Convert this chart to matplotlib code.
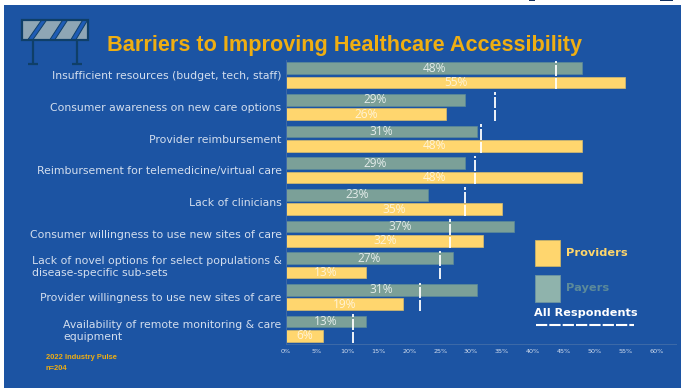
import matplotlib
matplotlib.use("Agg")
import matplotlib.pyplot as plt
from matplotlib.patches import Rectangle, Polygon

categories = [
    "Insufficient resources (budget, tech, staff)",
    "Consumer awareness on new care options",
    "Provider reimbursement",
    "Reimbursement for telemedicine/virtual care",
    "Lack of clinicians",
    "Consumer willingness to use new sites of care",
    "Lack of novel options for select populations &\ndisease-specific sub-sets",
    "Provider willingness to use new sites of care",
    "Availability of remote monitoring & care\nequipment",
]
payers = [48, 29, 31, 29, 23, 37, 27, 31, 13]
providers = [55, 26, 48, 48, 35, 32, 13, 19, 6]
all_respondents = [43.8, 33.9, 31.6, 30.6, 29.0, 26.6, 25.0, 21.7, 10.9]
x_ticks = list(range(0, 65, 5))

BLUE = "#1C54A3"
YELLOW = "#FFD66E"
GREEN = "#7BA098"
GOLD = "#EFAE12"
LIGHT = "#D3DEEE"
DARK = "#0F3F68"

W, H = 681, 388
fig = plt.figure(figsize=(W / 100, H / 100), dpi=100, facecolor="white")

# Page layer in pixel units: background, sign icon, title, legend
page = fig.add_axes([0, 0, 1, 1], zorder=0)
page.set_xlim(0, W)
page.set_ylim(H, 0)
page.axis("off")
page.add_patch(Rectangle((4, 5), W - 4, H - 5, fc=BLUE, ec="none"))
page.add_patch(Rectangle((529, 0), 6, 1.2, fc="#12305F", ec="none"))
page.add_patch(Rectangle((660, 0), 13, 1.2, fc="#12305F", ec="none"))

# Road barrier icon
page.add_patch(Rectangle((22, 19.5), 66, 20, fc="#8EA6B5", ec="none"))
for top, bottom in [(42, 28), (63, 50), (83, 71)]:
    page.add_patch(Polygon([(top, 19.5), (top + 5, 19.5), (bottom + 5, 39.5), (bottom, 39.5)],
                           fc="#1F5CB5", ec=DARK, lw=0.7))
page.add_patch(Rectangle((22, 19.5), 66, 20, fc="none", ec=DARK, lw=1.6))
for post in (33, 77):
    page.plot([post, post], [40, 63.5], color=DARK, lw=1.6, solid_capstyle="butt")
    page.plot([post - 5, post + 5], [63.5, 63.5], color=DARK, lw=1.6, solid_capstyle="butt")

page.text(107, 45, "Barriers to Improving Healthcare Accessibility", color=GOLD,
          family="Liberation Sans", weight="bold", fontsize=15.55, va="center", ha="left")

# Legend
page.add_patch(Rectangle((534.5, 239.5), 25, 26.5, fc=YELLOW, ec="#C9B36A", lw=0.6))
page.add_patch(Rectangle((534.5, 275), 25, 26.5, fc="#8FB3AC", ec="#6F96A0", lw=0.6))
page.text(566, 252.5, "Providers", color="#FFD66B", weight="bold", fontsize=8.2, va="center")
page.text(566, 288, "Payers", color="#5C8A9A", weight="bold", fontsize=8.2, va="center")
page.text(534, 313.5, "All Respondents", color="white", weight="bold", fontsize=8.1, va="center")
page.plot([536, 634], [325, 325], color="white", lw=1.5, linestyle=(0, (5.4, 1.0)))

page.text(46, 357.5, "2022 Industry Pulse", color=GOLD, family="Liberation Sans",
          weight="bold", fontsize=5.4, va="center")
page.text(46, 368, "n=204", color=GOLD, family="Liberation Sans",
          weight="bold", fontsize=5.4, va="center")

# Bar chart
ax = fig.add_axes([286 / W, 1 - 344 / H, (676 - 286) / W, (344 - 60) / H], zorder=1)
ax.patch.set_alpha(0)
ax.set_xlim(0, 390 / 6.17)
ax.set_ylim(8.48, -0.483)

rows = list(range(len(categories)))
offset, bar_h = 0.226, 0.37
ax.barh([r - offset for r in rows], payers, height=bar_h, color=GREEN,
        edgecolor="#5C8A98", linewidth=0.5)
ax.barh([r + offset for r in rows], providers, height=bar_h, color=YELLOW,
        edgecolor="#D8BD6E", linewidth=0.5)

for r, pay, pro, overall in zip(rows, payers, providers, all_respondents):
    ax.text(pay / 2, r - offset, f"{pay}%", color="#E4ECEA", family="Open Sans",
            fontsize=8.6, ha="center", va="center")
    ax.text(pro / 2, r + offset, f"{pro}%", color="#FFF3D6", family="Open Sans",
            fontsize=8.6, ha="center", va="center")
    # Broken marker for the overall figure
    for y0, y1 in [(-0.46, -0.38), (-0.32, 0.03), (0.09, 0.44)]:
        ax.plot([overall, overall], [r + y0, r + y1], color="white", lw=1.3,
                solid_capstyle="butt", zorder=4)

ax.set_yticks(rows)
ax.set_yticklabels(categories, color=LIGHT, fontsize=7.8, multialignment="left", linespacing=1.25)
ax.set_xticks(x_ticks)
ax.set_xticklabels([f"{v}%" for v in x_ticks], color=LIGHT, fontsize=4.6)
ax.tick_params(axis="both", length=0)
ax.tick_params(axis="y", pad=3.2)
ax.tick_params(axis="x", pad=3.5)
for side in ("top", "right"):
    ax.spines[side].set_visible(False)
ax.spines["left"].set_color("#3E6AA8")
ax.spines["bottom"].set_color("#3E6AA8")
ax.spines["left"].set_linewidth(0.7)
ax.spines["bottom"].set_linewidth(0.7)

fig.savefig("out.png", dpi=100)
